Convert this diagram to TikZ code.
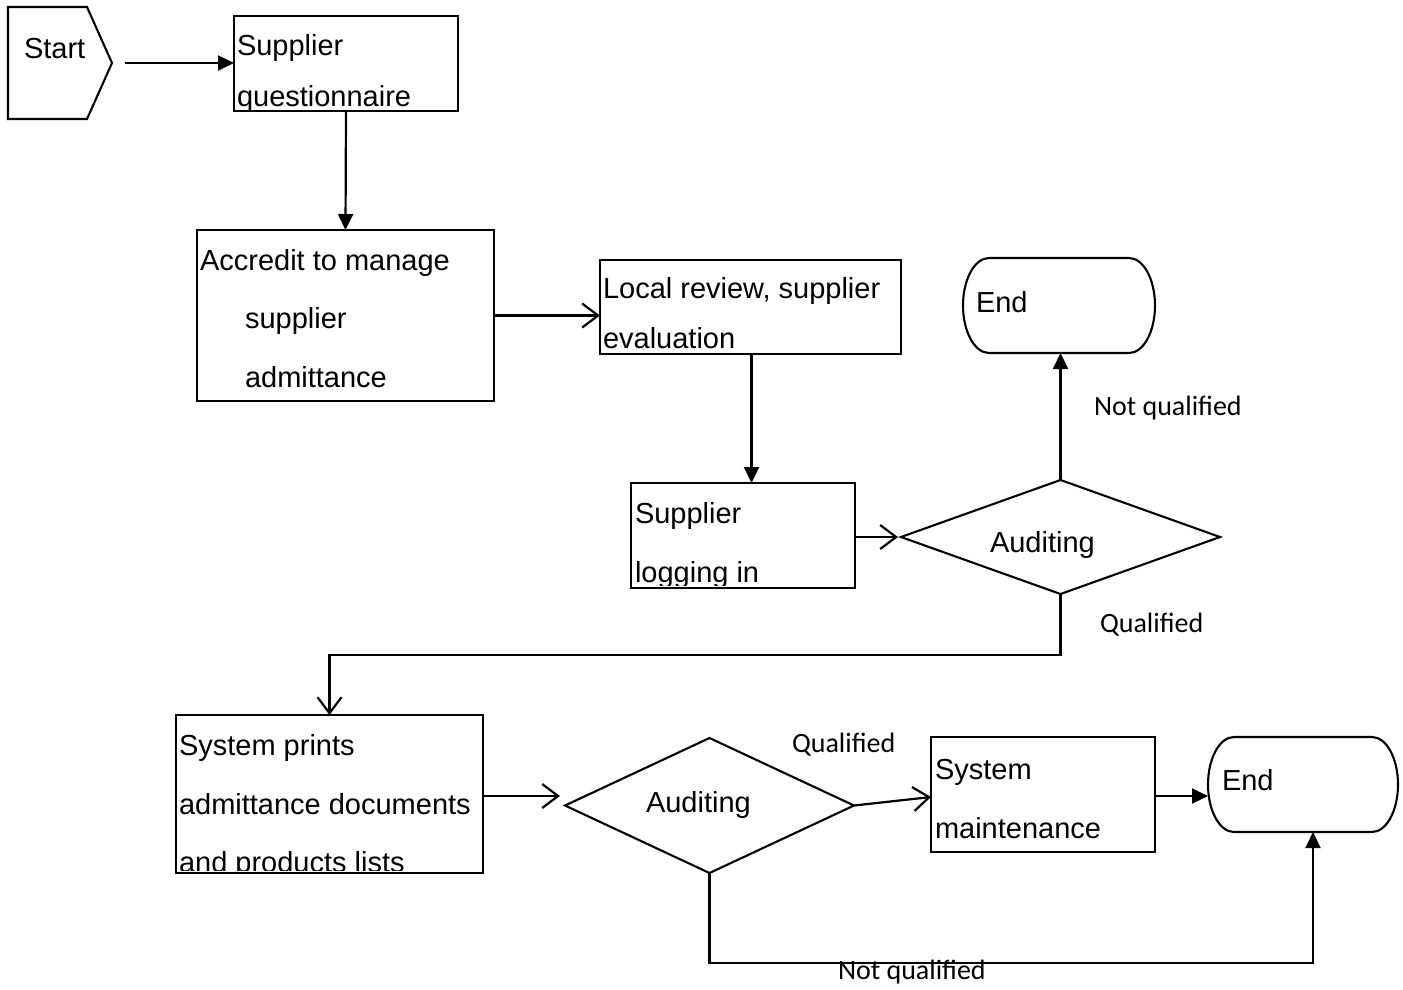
\documentclass[tikz,border=0pt]{standalone}
\usepackage{fontspec}
\setmainfont{Liberation Sans}
\newfontfamily\lblfont{Carlito}
\usetikzlibrary{arrows.meta,shapes.geometric,calc}
\begin{document}
\begin{tikzpicture}[x=1pt,y=-1pt,
  every node/.style={inner sep=0pt, outer sep=0pt},
  box/.style={draw, line width=2.1pt, rectangle},
  endbox/.style={rectangle},
  endline/.style={line width=2.1pt},
  dia/.style={draw, line width=2.1pt, diamond, aspect=1},
  txt/.style={anchor=base west, font=\fontsize{29}{35}\selectfont},
  lbl/.style={anchor=base west, font=\lblfont\fontsize{28}{34}\selectfont},
  fa/.style={line width=2.2pt, -{Triangle[length=16pt,width=15pt]}},
  oa/.style={line width=2.2pt, -{Straight Barb[length=16pt,width=24pt,line width=2.2pt]}}]
\useasboundingbox (0,0) rectangle (1403,989);

% Start shape
\node (start) at (60,63) [minimum width=104pt, minimum height=112pt] {};
\draw[line width=2.1pt] (start.north west) -- ([xshift=-25pt]start.north east) -- (start.east)
  -- ([xshift=-25pt]start.south east) -- (start.south west) -- cycle;
\node[txt] (tstart) at (24,58) {Start};

% boxes
\node[box, minimum width=224pt, minimum height=95pt] (sq) at (346,63.5) {};
\node[box, minimum width=297pt, minimum height=171pt] (acc) at (345.5,315.5) {};
\node[box, minimum width=301pt, minimum height=94pt] (loc) at (750.5,307) {};
\node[box, minimum width=224pt, minimum height=105pt] (sl) at (743,535.5) {};
\node[dia, minimum width=319pt, minimum height=114pt] (aud1) at (1060.5,537) {};
\node[endbox, minimum width=192pt, minimum height=95pt] (end1) at (1059,305.5) {};
\node[box, minimum width=307pt, minimum height=158pt] (sp) at (329.5,794) {};
\node[dia, minimum width=289pt, minimum height=135pt] (aud2) at (709.5,805.5) {};
\node[box, minimum width=224pt, minimum height=115pt] (sm) at (1043,794.5) {};
\node[endbox, minimum width=190pt, minimum height=95pt] (end2) at (1303,784.5) {};

% terminator outlines
\foreach \e in {end1,end2}{
  \draw[endline] ([xshift=26pt]\e.north west) -- ([xshift=-26pt]\e.north east)
    arc[start angle=90, end angle=-90, x radius=26pt, y radius=47.5pt]
    -- ([xshift=26pt]\e.south west)
    arc[start angle=270, end angle=90, x radius=26pt, y radius=47.5pt] -- cycle;
}

% texts
\node[txt] (tsq1) at (237,55) {Supplier};
\node[txt] (tsq2) at (237,106) {questionnaire};
\node[txt] (tacc1) at (200,270) {Accredit to manage};
\node[txt] (tacc2) at (245,328) {supplier};
\node[txt] (tacc3) at (245,387) {admittance};
\node[txt] (tloc1) at (603,298) {Local review, supplier};
\node[txt] (tloc2) at (603,348) {evaluation};
\begin{scope}
  \clip ([yshift=3pt]sl.south west) rectangle (sl.north east);
  \node[txt] (tsl1) at (635,523) {Supplier};
  \node[txt] (tsl2) at (635,582) {logging in};
\end{scope}
\node[txt] (ta1) at (990,552) {Auditing};
\node[txt] (te1) at (976,312) {End};
\begin{scope}
  \clip ([yshift=3pt]sp.south west) rectangle (sp.north east);
  \node[txt] (tsp1) at (179,755) {System prints};
  \node[txt] (tsp2) at (179,814) {admittance documents};
  \node[txt] (tsp3) at (179,872) {and products lists};
\end{scope}
\node[txt] (ta2) at (646,812) {Auditing};
\node[txt] (tsm1) at (935,779) {System};
\node[txt] (tsm2) at (935,838) {maintenance};
\node[txt] (te2) at (1222,790) {End};

% labels
\node[lbl] (lnq1) at (1094,415) {Not qualified};
\node[lbl] (lq1) at (1100,632) {Qualified};
\node[lbl] (lq2) at (792,752) {Qualified};
\node[lbl] (lnq2) at (838,979) {Not qualified};

% connectors
\draw[fa] ([xshift=13pt]start.east) -- (start.east -| sq.west);
\draw[fa] (sq.south) -- (acc.north);
\draw[oa] (acc.east) -- (acc.east -| loc.west);
\draw[fa] ([xshift=1pt]loc.south) -- ([xshift=1pt]loc.south |- sl.north);
\draw[oa] ([yshift=-1.5pt]sl.east) -- ([xshift=-3pt,yshift=-1.5pt]sl.east -| aud1.west);
\draw[fa] (aud1.north) -- (aud1.north |- end1.south);
\draw[oa] (aud1.south) -- ++(0,61) -| (sp.north);
\draw[oa] ([yshift=-2pt]sp.east) -- ([xshift=-5pt,yshift=-2pt]sp.east -| aud2.west);
\draw[oa] (aud2.east) -- ([yshift=-2.5pt]sm.west);
\draw[fa] ([yshift=-1.5pt]sm.east) -- ([yshift=-1.5pt]sm.east -| end2.west);
\draw[fa] (aud2.south) -- ++(0,90) -| ([xshift=10pt]end2.south);
\end{tikzpicture}
\end{document}
